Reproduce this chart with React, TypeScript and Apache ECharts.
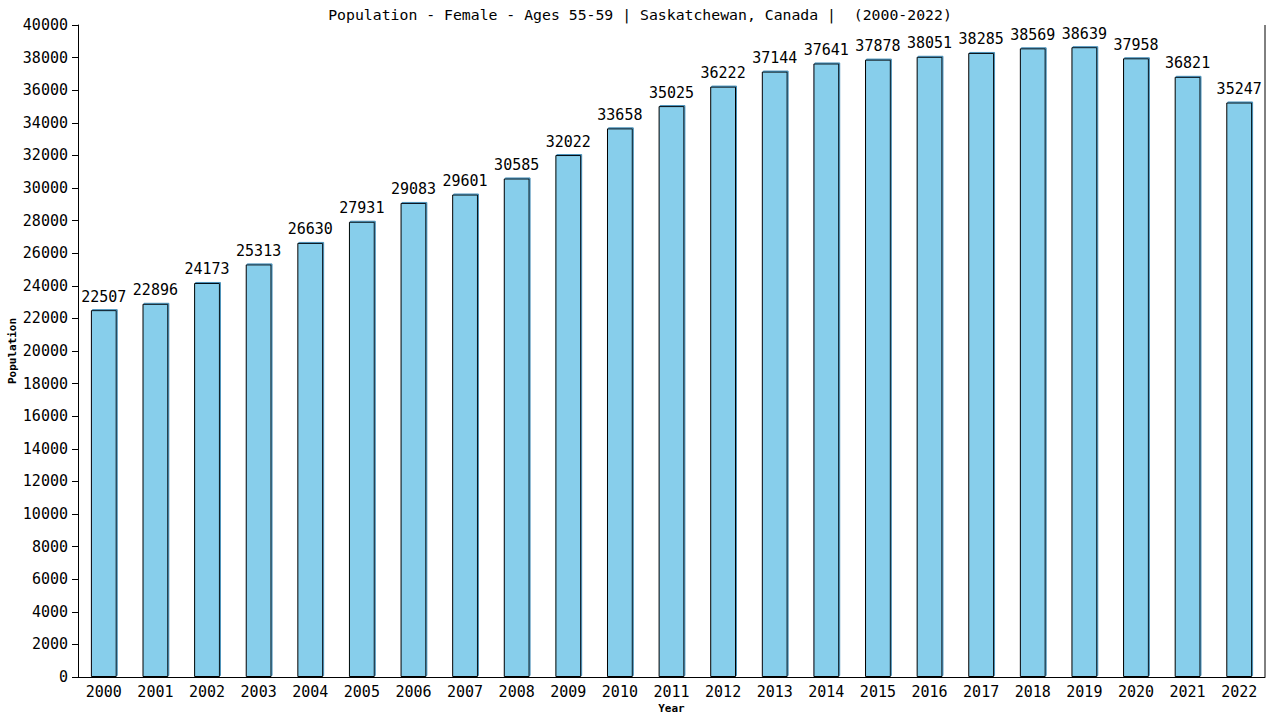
import { useEffect, useRef } from 'react';
import * as echarts from 'echarts';

const years = ['2000', '2001', '2002', '2003', '2004', '2005', '2006', '2007', '2008', '2009', '2010', '2011',
    '2012', '2013', '2014', '2015', '2016', '2017', '2018', '2019', '2020', '2021', '2022'];
const population = [22507, 22896, 24173, 25313, 26630, 27931, 29083, 29601, 30585, 32022, 33658, 35025,
    36222, 37144, 37641, 37878, 38051, 38285, 38569, 38639, 37958, 36821, 35247];

const FONT = '"DejaVu Sans Mono", monospace';

const App = () => {
    const chartRef = useRef<HTMLDivElement>(null);

    useEffect(() => {
        if (!chartRef.current) return;
        const chart = echarts.init(chartRef.current, null, { renderer: 'svg' });
        chart.setOption({
            animation: false,
            backgroundColor: '#ffffff',
            title: {
                text: 'Population - Female - Ages 55-59 | Saskatchewan, Canada |  (2000-2022)',
                left: 'center',
                top: 2,
                textStyle: { fontFamily: FONT, fontSize: 14.8, fontWeight: 'normal', color: '#000' }
            },
            grid: {
                left: 78, right: 15, top: 25, bottom: 43,
                containLabel: false, outerBoundsMode: 'none'
            },
            graphic: [{
                type: 'line',
                shape: { x1: 1265, y1: 25, x2: 1265, y2: 677 },
                style: { stroke: '#000', lineWidth: 1 }
            }],
            xAxis: {
                type: 'category',
                data: years,
                name: 'Year',
                nameLocation: 'middle',
                nameGap: 26,
                nameMoveOverlap: false,
                nameTextStyle: { fontFamily: FONT, fontSize: 11, fontWeight: 'bold', color: '#000' },
                axisLine: { lineStyle: { color: '#000' } },
                axisTick: { show: false },
                axisLabel: { fontFamily: FONT, fontSize: 15, color: '#000', margin: 7 }
            },
            yAxis: {
                type: 'value',
                min: 0,
                max: 40000,
                interval: 2000,
                name: 'Population',
                nameLocation: 'middle',
                nameGap: 60,
                nameMoveOverlap: false,
                nameTextStyle: { fontFamily: FONT, fontSize: 11, fontWeight: 'bold', color: '#000' },
                axisLine: { show: true, lineStyle: { color: '#000' } },
                axisTick: { show: true, length: 6, lineStyle: { color: '#000' } },
                splitLine: { show: false },
                axisLabel: {
                    fontFamily: FONT, fontSize: 15, color: '#000', margin: 10,
                    formatter: (v: number) => String(v)
                }
            },
            series: [{
                type: 'bar',
                data: population,
                barWidth: '50%',
                itemStyle: {
                    color: '#87ceeb',
                    borderColor: '#000',
                    borderWidth: 1,
                    shadowColor: '#4a90b8',
                    shadowOffsetX: 1,
                    shadowOffsetY: -1
                },
                label: {
                    show: true,
                    position: 'top',
                    distance: 6,
                    fontFamily: FONT,
                    fontSize: 15,
                    color: '#000'
                }
            }]
        });
        return () => chart.dispose();
    }, []);

    return <div ref={chartRef} style={{ position: 'fixed', left: 0, top: 0, width: 1280, height: 720 }} />;
};

export default App;
